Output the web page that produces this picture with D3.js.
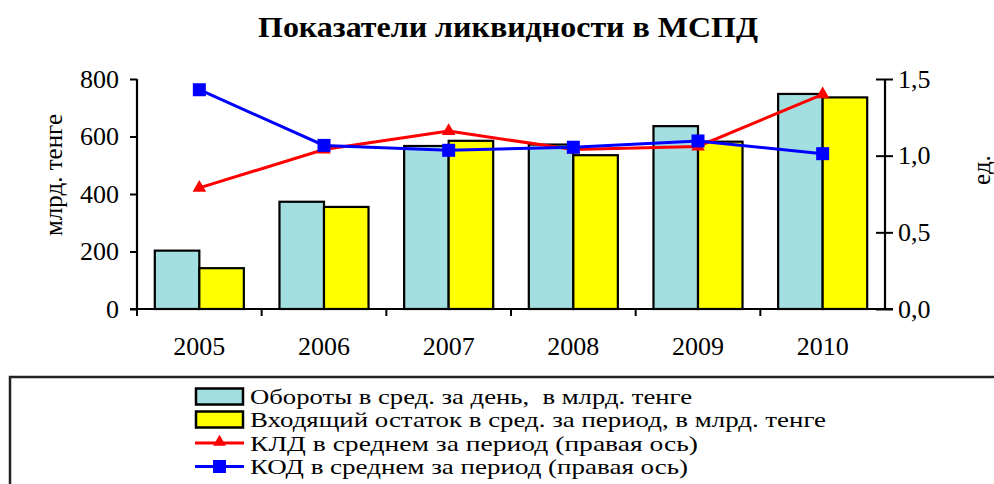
<!DOCTYPE html>
<html><head><meta charset="utf-8">
<script src="https://cdn.jsdelivr.net/npm/d3@7"></script>
<style>body{margin:0;background:#fff}svg{display:block}svg text{font-family:"Times New Roman","Liberation Serif",Tinos,"DejaVu Serif",serif !important}</style>
</head><body><svg id="c" width="994" height="484"></svg>
<script>
const years = ["2005","2006","2007","2008","2009","2010"];
const turnover = [203, 373, 567, 572, 636, 748];
const balance = [142, 355, 585, 535, 582, 736];
const kld = [0.79, 1.04, 1.16, 1.04, 1.06, 1.40];
const kod = [1.43, 1.067, 1.035, 1.055, 1.096, 1.013];
const leftTicks = [0, 200, 400, 600, 800];
const rightTicks = [0, 0.5, 1.0, 1.5];
const seriesNames = [
  "Обороты в сред. за день,  в млрд. тенге",
  "Входящий остаток в сред. за период, в млрд. тенге",
  "КЛД в среднем за период (правая ось)",
  "КОД в среднем за период (правая ось)"
];
const titleText = "Показатели ликвидности в МСПД";
const leftTitle = "млрд. тенге";
const rightTitle = "ед.";

const colors = {turn:"#A3DFE0", bal:"#FFFF00", kld:"#FF0000", kod:"#0000FF"};
const svg = d3.select("#c");

const x = d3.scaleBand().domain(years).range([137, 885]).padding(0);
const x1 = d3.scaleBand().domain(["turn","bal"]).range([0, x.bandwidth()]).paddingInner(0).paddingOuter(0.4);
const yL = d3.scaleLinear().domain([0, 800]).range([309, 79]);
const yR = d3.scaleLinear().domain([0, 1.5]).range([309, 79]);

// title
svg.append("text").attr("x", 508).attr("y", 37).attr("text-anchor","middle")
  .attr("font-weight","bold").attr("font-size", 30)
  .attr("textLength", 500).attr("lengthAdjust","spacingAndGlyphs").text(titleText);

// bars
const rows = years.map((y,i)=>({year:y, turn:turnover[i], bal:balance[i]}));
const g = svg.append("g");
rows.forEach(r=>{
  ["turn","bal"].forEach(k=>{
    g.append("rect").attr("x", x(r.year)+x1(k)).attr("y", yL(r[k]))
      .attr("width", x1.bandwidth()).attr("height", yL(0)-yL(r[k]))
      .attr("fill", colors[k]).attr("stroke","#000").attr("stroke-width",2.2);
  });
});

// axes
const axL = d3.axisLeft(yL).tickValues(leftTicks).tickSize(7).tickFormat(d=>d);
const gl = svg.append("g").attr("transform","translate(137,0)").call(axL);
gl.attr("font-family",null);
gl.select(".domain").attr("stroke","#000").attr("stroke-width",2.2).attr("d","M0,79V309");
gl.selectAll(".tick line").attr("stroke","#000").attr("stroke-width",2);
gl.selectAll(".tick text").attr("font-size",26).attr("fill","#000").attr("x",-18);

const axR = d3.axisRight(yR).tickValues(rightTicks).tickSize(8).tickFormat(d=>d3.format(".1f")(d).replace(".",","));
const gr = svg.append("g").attr("transform","translate(885,0)").call(axR);
gr.attr("font-family",null);
gr.select(".domain").attr("stroke","#000").attr("stroke-width",2.2).attr("d","M0,79V309");
gr.selectAll(".tick line").attr("stroke","#000").attr("stroke-width",2).attr("x1",-9).attr("x2",8);
gr.selectAll(".tick text").attr("font-size",26).attr("fill","#000").attr("x",13);

// x axis line and boundary ticks
svg.append("line").attr("x1",130).attr("x2",893).attr("y1",yL(0)).attr("y2",yL(0)).attr("stroke","#000").attr("stroke-width",2.2);
const bounds = years.map(y=>x(y));
svg.selectAll(".xt").data(bounds).enter().append("line")
  .attr("x1",d=>d).attr("x2",d=>d).attr("y1",yL(0)).attr("y2",yL(0)+7).attr("stroke","#000").attr("stroke-width",2);
const axB = d3.axisBottom(x).tickSize(0).tickPadding(0);
const gb = svg.append("g").attr("transform",`translate(0,${yL(0)})`).call(axB);
gb.attr("font-family",null);
gb.select(".domain").remove();
gb.selectAll(".tick text").attr("font-size",26).attr("fill","#000").attr("y",28).attr("dy","0.71em");

// axis titles
svg.append("text").attr("transform","translate(62,175) rotate(-90)").attr("text-anchor","middle")
  .attr("font-size",25).text(leftTitle);
svg.append("text").attr("transform","translate(990,170) rotate(-90)").attr("text-anchor","middle")
  .attr("font-size",25).text(rightTitle);

// lines
const cx = y => x(y) + x.bandwidth()/2;
const lineR = d3.line().x((d,i)=>cx(years[i])).y(d=>yR(d));
svg.append("path").attr("d", lineR(kld)).attr("fill","none").attr("stroke",colors.kld).attr("stroke-width",3);
svg.selectAll(".tri").data(kld).enter().append("path")
  .attr("transform",(d,i)=>`translate(${cx(years[i])},${yR(d)})`)
  .attr("d", d3.symbol().type(d3.symbolTriangle).size(80)).attr("fill",colors.kld);
svg.append("path").attr("d", lineR(kod)).attr("fill","none").attr("stroke",colors.kod).attr("stroke-width",3);
svg.selectAll(".sq").data(kod).enter().append("rect")
  .attr("x",(d,i)=>cx(years[i])-6.5).attr("y",d=>yR(d)-6.5).attr("width",13).attr("height",13).attr("fill",colors.kod);

// legend frame
svg.append("path").attr("d","M10,486V377H996").attr("fill","none").attr("stroke","#222").attr("stroke-width",2.5);
const legY = [396.5, 419.5, 443, 466.5];
const legW = [442, 576, 448, 438];
[0,1].forEach(i=>{
  svg.append("rect").attr("x",196).attr("y",legY[i]-8).attr("width",47).attr("height",16)
    .attr("fill", i===0?colors.turn:colors.bal).attr("stroke","#000").attr("stroke-width",2.5);
});
svg.append("line").attr("x1",195).attr("x2",244).attr("y1",legY[2]).attr("y2",legY[2]).attr("stroke",colors.kld).attr("stroke-width",3);
svg.append("path").attr("transform",`translate(219.5,${legY[2]-1})`).attr("d",d3.symbol().type(d3.symbolTriangle).size(70)).attr("fill",colors.kld);
svg.append("line").attr("x1",195).attr("x2",244).attr("y1",legY[3]).attr("y2",legY[3]).attr("stroke",colors.kod).attr("stroke-width",3);
svg.append("rect").attr("x",213).attr("y",legY[3]-6.5).attr("width",13).attr("height",13).attr("fill",colors.kod);
seriesNames.forEach((t,i)=>{
  svg.append("text").attr("x",250).attr("y",legY[i]+7.5).attr("font-size",22)
    .attr("textLength",legW[i]).attr("lengthAdjust","spacingAndGlyphs").attr("xml:space","preserve").text(t);
});
</script></body></html>
